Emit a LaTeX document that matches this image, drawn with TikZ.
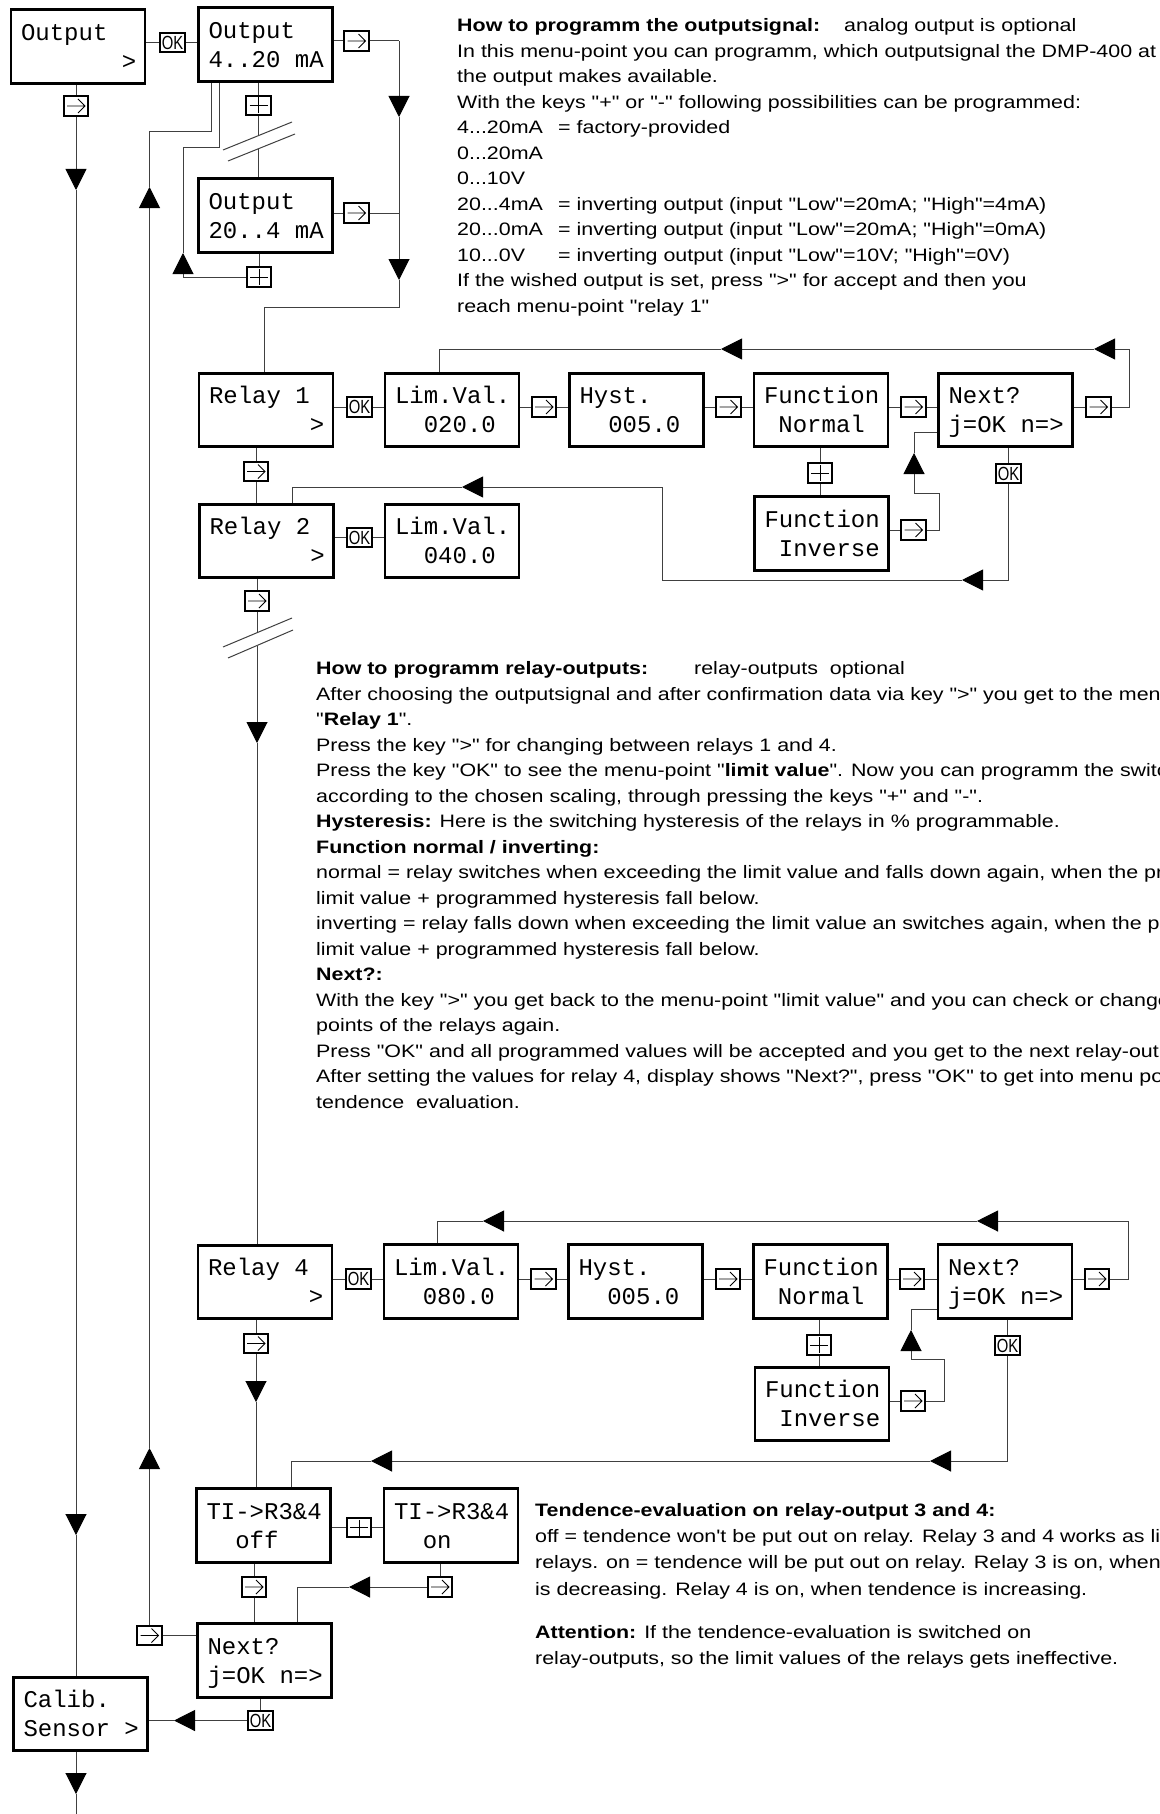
\documentclass[tikz,border=0pt]{standalone}
\usepackage{fontspec}
\setmainfont{Liberation Sans}[FakeStretch=1.19,Ligatures=TeXOff]
\newfontfamily\lcd{Liberation Mono}
\newfontfamily\okfont{Liberation Sans}[FakeStretch=0.78]
\usetikzlibrary{arrows.meta}
\newcommand{\lcdtext}[2]{\rule{0pt}{22pt}\makebox[114pt][l]{#1}\\\rule[-5.4pt]{0pt}{5.4pt}\makebox[114pt][l]{#2}}
\begin{document}
\begin{tikzpicture}[x=1pt,y=-1pt]
            \tikzstyle{menubox}=[draw,line width=2.7pt,minimum width=133.5pt,minimum height=73.5pt,inner xsep=10pt,inner ysep=0pt,align=left,font=\lcd\fontsize{24}{29}\selectfont]
            \tikzstyle{keycap}=[draw,fill=white,line width=2.4pt,minimum width=24.5pt,minimum height=19.5pt,inner sep=0pt]
            \tikzstyle{okkey}=[keycap,font=\okfont\fontsize{19}{19}\selectfont]
            \tikzstyle{fwdkey}=[keycap,path picture={\draw[line width=0.8pt,shift={(path picture bounding box.center)}] (-9pt,0pt) -- (9pt,0pt) (2pt,7pt) -- (9pt,0pt) -- (2pt,-7pt);}]
            \tikzstyle{pluskey}=[keycap,path picture={\draw[line width=0.8pt,shift={(path picture bounding box.center)}] (-9pt,0pt) -- (9pt,0pt) (0pt,-8pt) -- (0pt,8pt);}]
            \tikzstyle{wire}=[line width=1pt,black!75]
            \tikzstyle{tri}=[-{Triangle[length=21pt,width=21pt,color=black]}]
            \tikzstyle{note}=[anchor=north west,inner sep=0pt,align=left,font=\fontsize{18}{25.5}\selectfont]
            \useasboundingbox (0,0) rectangle (1159,1814);
            \fill[white] (0,0) rectangle (1159,1814);
            \clip (0,0) rectangle (1159,1814);
            \node[menubox] (out) at (78,46.5) {\lcdtext{Output}{\phantom{XXXXXXX}>}};
            \node[menubox] (outA) at (265.5,44.5) {\lcdtext{Output}{4..20 mA}};
            \node[menubox] (outB) at (265.5,215.5) {\lcdtext{Output}{20..4 mA}};
            \node[menubox] (rel1) at (266,410) {\lcdtext{Relay 1}{\phantom{XXXXXXX}>}};
            \node[menubox] (lim1) at (452,410) {\lcdtext{Lim.Val.}{\phantom{XX}020.0}};
            \node[menubox] (hys1) at (636.5,410) {\lcdtext{Hyst.}{\phantom{XX}005.0}};
            \node[menubox] (fnn1) at (821,410) {\lcdtext{Function}{\phantom{X}Normal}};
            \node[menubox] (nxt1) at (1005.5,410) {\lcdtext{Next?}{j=OK n=>}};
            \node[menubox] (fni1) at (821.5,533.5) {\lcdtext{Function}{\phantom{X}Inverse}};
            \node[menubox] (rel2) at (266.5,541) {\lcdtext{Relay 2}{\phantom{XXXXXXX}>}};
            \node[menubox] (lim2) at (452,541) {\lcdtext{Lim.Val.}{\phantom{XX}040.0}};
            \node[menubox] (rel4) at (265,1282) {\lcdtext{Relay 4}{\phantom{XXXXXXX}>}};
            \node[menubox] (lim4) at (451,1281.5) {\lcdtext{Lim.Val.}{\phantom{XX}080.0}};
            \node[menubox] (hys4) at (635.5,1281.5) {\lcdtext{Hyst.}{\phantom{XX}005.0}};
            \node[menubox] (fnn4) at (820.5,1281.5) {\lcdtext{Function}{\phantom{X}Normal}};
            \node[menubox] (nxt4) at (1005,1281.5) {\lcdtext{Next?}{j=OK n=>}};
            \node[menubox] (fni4) at (822,1404) {\lcdtext{Function}{\phantom{X}Inverse}};
            \node[menubox] (tioff) at (263.5,1525.5) {\lcdtext{TI->R3\&4}{\phantom{XX}off}};
            \node[menubox] (tion) at (451,1525.5) {\lcdtext{TI->R3\&4}{\phantom{XX}on}};
            \node[menubox] (nxt5) at (264.5,1660.5) {\lcdtext{Next?}{j=OK n=>}};
            \node[menubox] (cal) at (80.5,1714) {\lcdtext{Calib.}{Sensor >}};
            \node[fwdkey] (kOut) at (76,106) {};
            \node[okkey] (ok0) at (172.5,42.5) {OK};
            \node[fwdkey] (kA) at (356.5,41) {};
            \node[pluskey] (pA) at (258.5,105.5) {};
            \node[fwdkey] (kB) at (356.5,213) {};
            \node[pluskey] (pB) at (259,277) {};
            \node[okkey] (ok1) at (359.5,407) {OK};
            \node[fwdkey] (ka1) at (544,407) {};
            \node[fwdkey] (kb1) at (728.5,407) {};
            \node[fwdkey] (kc1) at (913.5,407) {};
            \node[fwdkey] (kd1) at (1098.5,407) {};
            \node[pluskey] (p1) at (820,473) {};
            \node[fwdkey] (ke1) at (913.5,530) {};
            \node[okkey] (okn1) at (1008.5,473.5) {OK};
            \node[fwdkey] (kr1) at (256,471.5) {};
            \node[okkey] (ok2) at (359.5,537.5) {OK};
            \node[fwdkey] (kr2) at (257,601) {};
            \node[okkey] (ok4) at (358.5,1279) {OK};
            \node[fwdkey] (ka4) at (543.5,1279) {};
            \node[fwdkey] (kb4) at (728,1279) {};
            \node[fwdkey] (kc4) at (912,1279) {};
            \node[fwdkey] (kd4) at (1097,1279) {};
            \node[pluskey] (p4) at (819,1345) {};
            \node[fwdkey] (ke4) at (913,1401) {};
            \node[okkey] (okn4) at (1007.5,1345.5) {OK};
            \node[fwdkey] (kr4) at (256,1343.5) {};
            \node[pluskey] (pt) at (359,1527.5) {};
            \node[fwdkey] (kt1) at (254,1587) {};
            \node[fwdkey] (kt2) at (440,1587) {};
            \node[fwdkey] (kn5) at (149.5,1635.5) {};
            \node[okkey] (okn5) at (260.5,1720.5) {OK};
            \coordinate (m1) at (76,190);
            \coordinate (m2) at (76,1535);
            \coordinate (m3) at (76,1794);
            \coordinate (m4) at (76,1814);
            \coordinate (r1) at (399,41);
            \coordinate (r2) at (399,117);
            \coordinate (r3) at (399,280);
            \coordinate (r4) at (399,307);
            \coordinate (r5) at (264,307);
            \coordinate (b1) at (258.5,136);
            \coordinate (b2) at (258.5,149);
            \coordinate (c1) at (183,253);
            \coordinate (c2) at (183,148);
            \coordinate (c3) at (219,148);
            \coordinate (u1) at (149.5,1448);
            \coordinate (u2) at (149.5,187);
            \coordinate (u3) at (149.5,132);
            \coordinate (u4) at (211,132);
            \coordinate (e1) at (1129,349);
            \coordinate (e2) at (1094,349);
            \coordinate (e3) at (721,349);
            \coordinate (e4) at (439,349);
            \coordinate (f1) at (939,493);
            \coordinate (f2) at (914,493);
            \coordinate (f3) at (914,453);
            \coordinate (f4) at (914,432);
            \coordinate (g1) at (1008.5,580);
            \coordinate (g2) at (962,580);
            \coordinate (g3) at (662,580);
            \coordinate (g4) at (662,487);
            \coordinate (g5) at (462,487);
            \coordinate (g6) at (292,487);
            \coordinate (h1) at (257,633);
            \coordinate (h2) at (257,646);
            \coordinate (h3) at (257,743);
            \coordinate (i1) at (1128,1221);
            \coordinate (i2) at (977,1221);
            \coordinate (i3) at (483,1221);
            \coordinate (i4) at (437,1221);
            \coordinate (n1) at (944,1359);
            \coordinate (n2) at (911,1359);
            \coordinate (n3) at (911,1330);
            \coordinate (n4) at (911,1309);
            \coordinate (q1) at (1007.5,1461);
            \coordinate (q2) at (930,1461);
            \coordinate (q3) at (371,1461);
            \coordinate (q4) at (291,1461);
            \coordinate (j1) at (256,1402);
            \coordinate (s1) at (349,1587);
            \coordinate (s2) at (297,1587);
            \coordinate (v1) at (174,1720.5);
            \draw[wire] (out.east |- ok0) -- (ok0) -- (outA.west |- ok0);
            \draw[wire] (kOut |- out.south) -- (kOut);
            \draw[wire,tri] (kOut) -- (m1);
            \draw[wire,tri] (m1) -- (m2);
            \draw[wire] (m2) -- (kOut |- cal.north);
            \draw[wire,tri] (kOut |- cal.south) -- (m3);
            \draw[wire] (m3) -- (m4);
            \draw[wire] (outA.east |- kA) -- (kA) -- (r1);
            \draw[wire,tri] (r1) -- (r2);
            \draw[wire,tri] (r2) -- (r3);
            \draw[wire] (r3) -- (r4) -- (r5) -- (r5 |- rel1.north);
            \draw[wire] (outB.east |- kB) -- (kB) -- (kB -| r1);
            \draw[wire] (pA |- outA.south) -- (pA) -- (b1);
            \draw[wire] (b2) -- (pA |- outB.north);
            \draw[wire] (223,150) -- (292,122) (228,161) -- (295,134);
            \draw[wire] (pB |- outB.south) -- (pB);
            \draw[wire,tri] (pB.west) -- (pB.west -| c1) -- (c1);
            \draw[wire] (c1) -- (c2) -- (c3) -- (c3 |- outA.south);
            \draw[wire] (nxt5.west |- kn5) -- (kn5);
            \draw[wire,tri] (kn5) -- (u1);
            \draw[wire,tri] (u1) -- (u2);
            \draw[wire] (u2) -- (u3) -- (u4) -- (u4 |- outA.south);
            \draw[wire] (rel1.east |- ok1) -- (ok1) -- (lim1.west |- ok1);
            \draw[wire] (lim1.east |- ka1) -- (ka1) -- (hys1.west |- ka1);
            \draw[wire] (hys1.east |- kb1) -- (kb1) -- (fnn1.west |- kb1);
            \draw[wire] (fnn1.east |- kc1) -- (kc1) -- (nxt1.west |- kc1);
            \draw[wire,tri] (nxt1.east |- kd1) -- (kd1) -- (kd1 -| e1) -- (e1) -- (e2);
            \draw[wire,tri] (e2) -- (e3);
            \draw[wire] (e3) -- (e4) -- (e4 |- lim1.north);
            \draw[wire] (p1 |- fnn1.south) -- (p1) -- (p1 |- fni1.north);
            \draw[wire,tri] (fni1.east |- ke1) -- (ke1) -- (ke1 -| f1) -- (f1) -- (f2) -- (f3);
            \draw[wire] (f3) -- (f4) -- (f4 -| nxt1.west);
            \draw[wire] (okn1 |- nxt1.south) -- (okn1);
            \draw[wire,tri] (okn1) -- (g1) -- (g2);
            \draw[wire,tri] (g2) -- (g3) -- (g4) -- (g5);
            \draw[wire] (g5) -- (g6) -- (g6 |- rel2.north);
            \draw[wire] (kr1 |- rel1.south) -- (kr1) -- (kr1 |- rel2.north);
            \draw[wire] (rel2.east |- ok2) -- (ok2) -- (lim2.west |- ok2);
            \draw[wire] (kr2 |- rel2.south) -- (kr2) -- (h1);
            \draw[wire,tri] (h2) -- (h3);
            \draw[wire] (h3) -- (h3 |- rel4.north);
            \draw[wire] (223,647) -- (292,618) (228,658) -- (293,630);
            \draw[wire] (rel4.east |- ok4) -- (ok4) -- (lim4.west |- ok4);
            \draw[wire] (lim4.east |- ka4) -- (ka4) -- (hys4.west |- ka4);
            \draw[wire] (hys4.east |- kb4) -- (kb4) -- (fnn4.west |- kb4);
            \draw[wire] (fnn4.east |- kc4) -- (kc4) -- (nxt4.west |- kc4);
            \draw[wire,tri] (nxt4.east |- kd4) -- (kd4) -- (kd4 -| i1) -- (i1) -- (i2);
            \draw[wire,tri] (i2) -- (i3);
            \draw[wire] (i3) -- (i4) -- (i4 |- lim4.north);
            \draw[wire] (p4 |- fnn4.south) -- (p4) -- (p4 |- fni4.north);
            \draw[wire,tri] (fni4.east |- ke4) -- (ke4) -- (ke4 -| n1) -- (n1) -- (n2) -- (n3);
            \draw[wire] (n3) -- (n4) -- (n4 -| nxt4.west);
            \draw[wire] (okn4 |- nxt4.south) -- (okn4);
            \draw[wire,tri] (okn4) -- (q1) -- (q2);
            \draw[wire,tri] (q2) -- (q3);
            \draw[wire] (q3) -- (q4) -- (q4 |- tioff.north);
            \draw[wire] (kr4 |- rel4.south) -- (kr4);
            \draw[wire,tri] (kr4) -- (j1);
            \draw[wire] (j1) -- (j1 |- tioff.north);
            \draw[wire] (tioff.east |- pt) -- (pt) -- (tion.west |- pt);
            \draw[wire] (kt1 |- tioff.south) -- (kt1) -- (kt1 |- nxt5.north);
            \draw[wire] (kt2 |- tion.south) -- (kt2);
            \draw[wire,tri] (kt2.west) -- (s1);
            \draw[wire] (s1) -- (s2) -- (s2 |- nxt5.north);
            \draw[wire] (okn5 |- nxt5.south) -- (okn5);
            \draw[wire,tri] (okn5.west) -- (v1);
            \draw[wire] (v1) -- (v1 -| cal.east);
            \node[note] (howout) at (457,13.6) {\strut\makebox[387pt][l]{\textbf{How to programm the outputsignal:}}analog output is optional\\
              In this menu-point you can programm, which outputsignal the DMP-400 at\\
              the output makes available.\\
              With the keys "+" or "-" following possibilities can be programmed:\\
              \makebox[101pt][l]{4...20mA}= factory-provided\\
              0...20mA\\
              0...10V\\
              \makebox[101pt][l]{20...4mA}= inverting output (input "Low"=20mA; "High"=4mA)\\
              \makebox[101pt][l]{20...0mA}= inverting output (input "Low"=20mA; "High"=0mA)\\
              \makebox[101pt][l]{10...0V}= inverting output (input "Low"=10V; "High"=0V)\\
              If the wished output is set, press ">" for accept and then you\\
              reach menu-point "relay 1"};
            \node[note] (howrelay) at (316,656.6) {\strut\makebox[378pt][l]{\textbf{How to programm relay-outputs:}}relay-outputs\ \ optional\\
              After choosing the outputsignal and after confirmation data via key ">" you get to the menu-point\\
              "\textbf{Relay 1}".\\
              Press the key ">" for changing between relays 1 and 4.\\
              Press the key "OK" to see the menu-point "\textbf{limit value}". Now you can programm the switching points\\
              according to the chosen scaling, through pressing the keys "+" and "-".\\
              \textbf{Hysteresis:} Here is the switching hysteresis of the relays in \% programmable.\\
              \textbf{Function normal / inverting:}\\
              normal = relay switches when exceeding the limit value and falls down again, when the present value\\
              limit value + programmed hysteresis fall below.\\
              inverting = relay falls down when exceeding the limit value an switches again, when the present value\\
              limit value + programmed hysteresis fall below.\\
              \textbf{Next?:}\\
              With the key ">" you get back to the menu-point "limit value" and you can check or change the switching\\
              points of the relays again.\\
              Press "OK" and all programmed values will be accepted and you get to the next relay-output.\\
              After setting the values for relay 4, display shows "Next?", press "OK" to get into menu point\\
              tendence\ \ evaluation.};
            \node[note,font=\fontsize{18}{26.3}\selectfont] (tendence) at (535,1497.5) {\strut\textbf{Tendence-evaluation on relay-output 3 and 4:}\\
              off = tendence won't be put out on relay. Relay 3 and 4 works as limit\\
              relays. on = tendence will be put out on relay. Relay 3 is on, when tendence\\
              is decreasing. Relay 4 is on, when tendence is increasing.};
            \node[note] (attention) at (535,1620.6) {\strut\textbf{Attention:} If the tendence-evaluation is switched on\\
              relay-outputs, so the limit values of the relays gets ineffective.};
\end{tikzpicture}
\end{document}
